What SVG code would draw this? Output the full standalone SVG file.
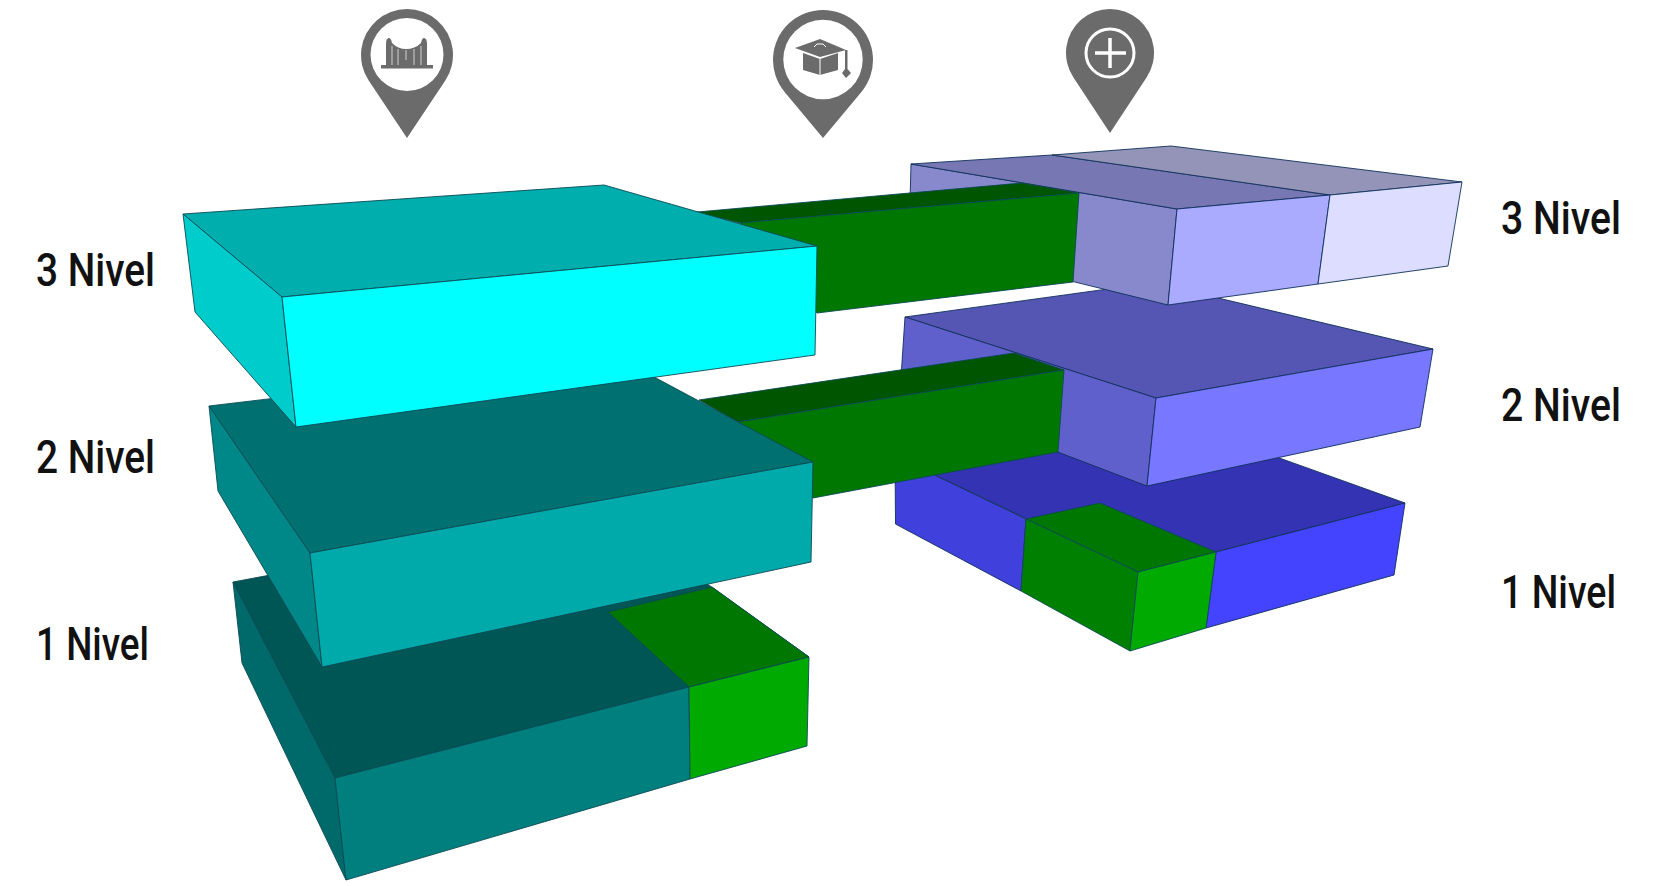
<svg xmlns="http://www.w3.org/2000/svg" width="1660" height="886" viewBox="0 0 1660 886">
<style>
polygon{stroke:#10305a;stroke-width:.9;stroke-linejoin:round}
.t{stroke:#0c4a55}
.pin{fill:#6b6b6b}
.hole{fill:#fff}
.ln{stroke:#fff;fill:none}
text{font-family:"Roboto","Liberation Sans",sans-serif;font-size:46px;font-weight:500;fill:#111}
</style>
<rect width="1660" height="886" fill="#fff"/>

<g id="pin-1">
<path class="pin" d="M407 138L368.700 80.500A46 46 0 1 1 445.300 80.500Z"/>
<circle class="hole" cx="407" cy="54.500" r="36.500"/>
<path class="pin" d="M381 65H386V44Q386 38 389 38Q391 38 392 43Q398 49 406 49Q415 49 421 43Q422 38 424 38Q427 38 427 44V65H433V68.500H381Z"/>
<path class="ln" stroke-width=".7" d="M392 46V65M398 49V65M406 50V60M414 49V65M421 46V65"/>
</g>
<g id="pin-2">
<path class="pin" d="M823 138L784.600 92A50 50 0 1 1 861.400 92Z"/>
<circle class="hole" cx="823" cy="59.500" r="39.700"/>
<path class="pin" d="M803 53L820 59L838 53V70L820 75L803 70Z"/>
<path class="pin" d="M795 48L820 39L846 50L820 57Z"/>
<path class="ln" stroke-width="1" d="M820 59V75M814 47L817 44H823L826 47"/>
<path class="pin" d="M845 50H847.500V69L851 73L846 78L842 73L845 69Z"/>
</g>
<g id="pin-3">
<path class="pin" d="M1110 133L1073.300 77.200A44 44 0 1 1 1146.700 77.200Z"/>
<circle class="ln" cx="1110" cy="53" r="24" stroke-width="3"/>
<path class="ln" stroke-width="3.500" d="M1095 53H1126M1110 38V68"/>
</g>

<g id="box-right-1">
<polygon fill="#3333b3" points="895,456 1190,426 1405,503 1138,572"/>
<polygon fill="#4040dd" points="895,456 1026,519 1021,591 895.500,524"/>
<polygon fill="#4444ff" points="1216,552 1405,503 1394,575 1206,628"/>
<polygon fill="#007700" class="t" points="1026,519 1100,503 1216,552 1138,572"/>
<polygon fill="#008000" class="t" points="1026,519 1138,572 1130,651 1021,591"/>
<polygon fill="#00aa00" class="t" points="1138,572 1216,552 1206,628 1130,651"/>
</g>
<g id="box-right-2">
<polygon fill="#5555b3" points="905,317 1153.600,282.700 1433,349 1156,398"/>
<polygon fill="#6060cc" points="905,317 1156,398 1147,486 900,392"/>
<polygon fill="#7777ff" points="1156,398 1433,349 1420,427 1147,486"/>
</g>
<g id="box-right-3">
<polygon fill="#8888cc" points="911,164 1177,209 1168,305 909,241"/>
<polygon fill="#7777b3" points="911,164 1052,155 1330,195 1177,209"/>
<polygon fill="#9494b8" points="1052,155 1171,146 1462,182 1330,195"/>
<polygon fill="#aaaaff" points="1177,209 1330,195 1318,284 1168,305"/>
<polygon fill="#ddddff" points="1330,195 1462,182 1448,266 1318,284"/>
</g>

<g id="connectors">
<polygon fill="#005500" class="t" points="697,212 1022,183 1079,193 740,223"/>
<polygon fill="#007700" class="t" points="740,223 1079,193 1073,282 817,313"/>
<polygon fill="#005500" class="t" points="699,400 1014,353 1064,370 738,422"/>
<polygon fill="#007700" class="t" points="738,422 1064,370 1058,452 813,498"/>
</g>

<g id="box-left-1">
<polygon class="t" fill="#005555" points="233,582 607,512 809,657 335,778"/>
<polygon class="t" fill="#007700" points="608,612 712,587 809,657 689,687"/>
<polygon class="t" fill="#006a6a" points="233,582 335,778 346,880 242,663"/>
<polygon class="t" fill="#007f7f" points="335,778 689,687 690,779 346,880"/>
<polygon class="t" fill="#00aa00" points="689,687 809,657 807,746 690,779"/>
</g>
<g id="box-left-2">
<polygon class="t" fill="#007070" points="209,406 617.600,357.500 813,462 310,553"/>
<polygon class="t" fill="#008888" points="209,406 310,553 322,667 218,491"/>
<polygon class="t" fill="#00aaaa" points="310,553 813,462 811,562 322,667"/>
</g>
<g id="box-left-3">
<polygon class="t" fill="#00aeae" points="183,214 604,185 817,246 282,297"/>
<polygon class="t" fill="#00cccc" points="183,214 282,297 296,427 195,312"/>
<polygon class="t" fill="#00ffff" points="282,297 817,246 815,355 296,427"/>
</g>

<g id="labels">
<text x="36" y="286" textLength="119" lengthAdjust="spacingAndGlyphs">3 Nivel</text>
<text x="36" y="473" textLength="119" lengthAdjust="spacingAndGlyphs">2 Nivel</text>
<text x="36" y="660" textLength="113" lengthAdjust="spacingAndGlyphs">1 Nivel</text>
<text x="1501" y="234" textLength="120" lengthAdjust="spacingAndGlyphs">3 Nivel</text>
<text x="1501" y="421" textLength="120" lengthAdjust="spacingAndGlyphs">2 Nivel</text>
<text x="1501" y="608" textLength="115" lengthAdjust="spacingAndGlyphs">1 Nivel</text>
</g>
</svg>
